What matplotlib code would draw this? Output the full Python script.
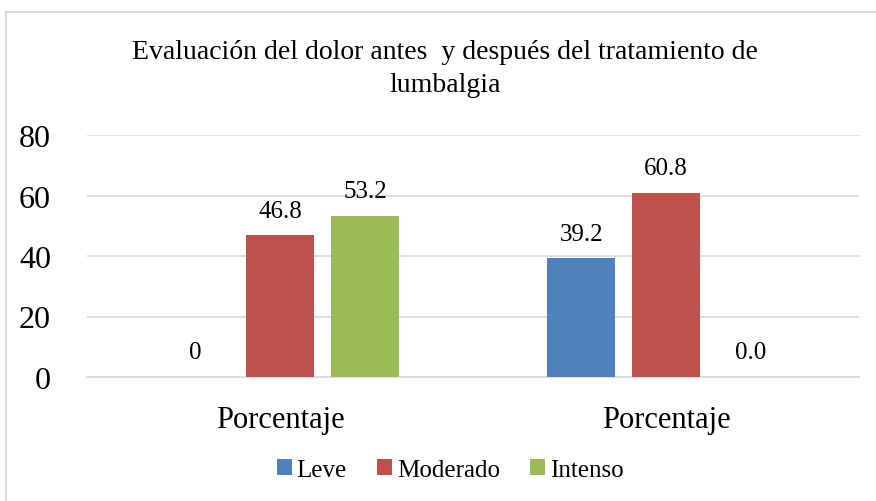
import numpy as np
import matplotlib

matplotlib.use('Agg')
import matplotlib.pyplot as plt
from matplotlib.lines import Line2D

plt.rcParams['font.family'] = ['Liberation Serif', 'DejaVu Serif']

categories = ["Porcentaje", "Porcentaje"]
series_names = ["Leve", "Moderado", "Intenso"]
leve = [0, 39.2]
moderado = [46.8, 60.8]
intenso = [53.2, 0.0]
value_labels = [["0", "39.2"], ["46.8", "60.8"], ["53.2", "0.0"]]
colors = ["#4F81BD", "#C0504D", "#9BBB59"]
title = "Evaluación del dolor antes  y después del tratamiento de\nlumbalgia"

fig = plt.figure(figsize=(8.76, 5.02), dpi=100)
W, H = 876, 502
ax = fig.add_axes([87 / W, 1 - 378 / H, (859 - 87) / W, (378 - 136) / H])

# chart frame: only top and left edges show, the rest is cut off
fy = 1 - 13 / H
fx = 6 / W
fig.lines.append(Line2D([fx, 1.0], [fy, fy], transform=fig.transFigure, color='#d9d9d9', linewidth=1.5))
fig.lines.append(Line2D([fx, fx], [0, fy], transform=fig.transFigure, color='#d9d9d9', linewidth=1.5))

x = np.arange(len(categories))
pitch = 0.22
width = 0.176
for i, (vals, name) in enumerate(zip([leve, moderado, intenso], series_names)):
    pos = x + (i - 1) * pitch
    ax.bar(pos, vals, width, color=colors[i], label=name, zorder=3)
    for p, v, lab in zip(pos, vals, value_labels[i]):
        ax.text(p, v + 4.5, lab, ha='center', va='bottom', fontsize=18)

ax.set_ylim(0, 80)
ax.set_xlim(-0.5, 1.5)
ax.set_yticks([0, 20, 40, 60, 80])
ax.tick_params(axis='y', labelsize=23, length=0, pad=26)
ax.set_xticks(x)
ax.set_xticklabels(categories, fontsize=22)
ax.tick_params(axis='x', length=0, pad=20)
ax.grid(axis='y', color='#d9d9d9', linewidth=1.2, zorder=0)
for s in ['top', 'right', 'left']:
    ax.spines[s].set_visible(False)
ax.spines['bottom'].set_color('#d9d9d9')
ax.spines['bottom'].set_linewidth(1.2)

fig.text(445 / W, 1 - 69 / H, title, ha='center', va='center', fontsize=20, linespacing=1.45)

fig.legend(loc='center', bbox_to_anchor=(450 / W, 1 - 471 / H), ncol=3, frameon=False,
           fontsize=18, handlelength=0.6, handleheight=0.6, handletextpad=0.2, columnspacing=1.2)

fig.savefig('out.png', dpi=100)
